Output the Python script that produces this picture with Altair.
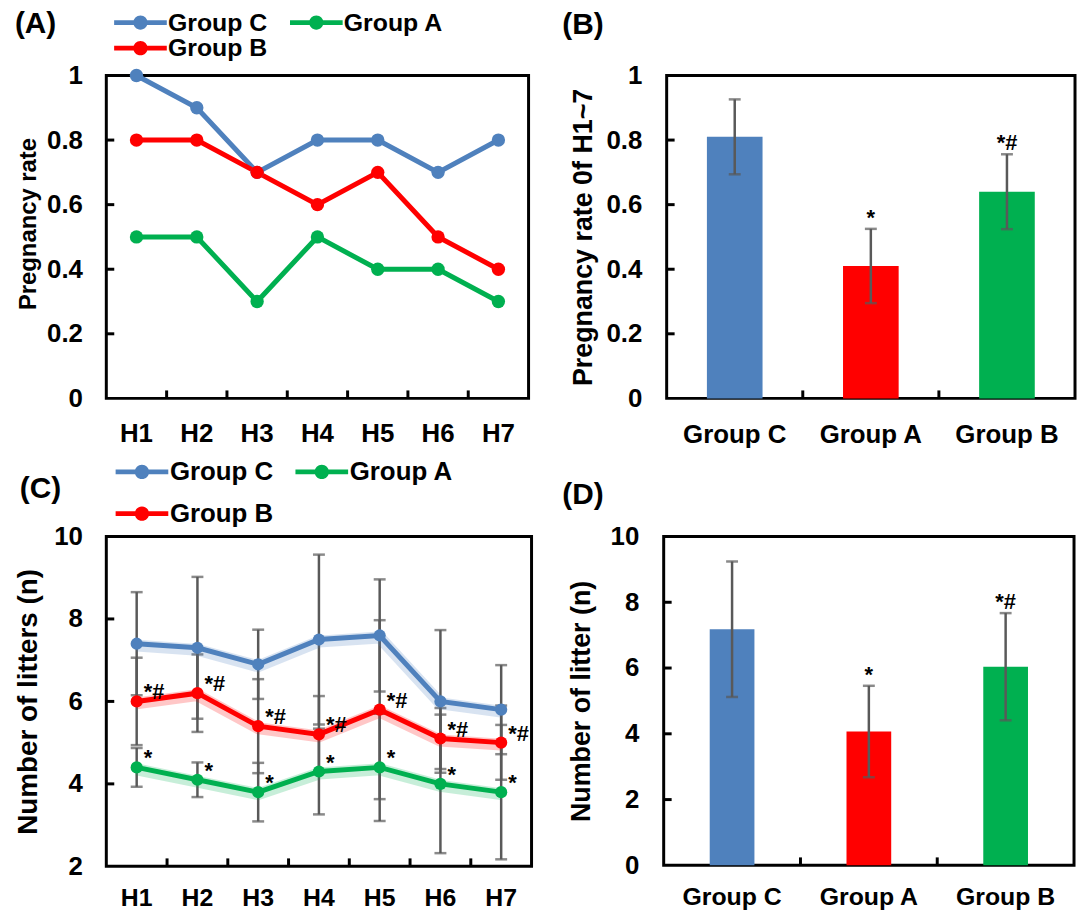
import altair as alt
import pandas as pd

# ---------------- data ----------------
hours = ["H1", "H2", "H3", "H4", "H5", "H6", "H7"]
groups = ["Group C", "Group A", "Group B"]
line_colors = ["#4F81BD", "#00B050", "#FF0000"]
bar_colors = ["#4F81BD", "#FF0000", "#00B050"]

rate_c = [1.0, 0.9, 0.7, 0.8, 0.8, 0.7, 0.8]
rate_a = [0.5, 0.5, 0.3, 0.5, 0.4, 0.4, 0.3]
rate_b = [0.8, 0.8, 0.7, 0.6, 0.7, 0.5, 0.4]

litter_c = [7.4, 7.3, 6.9, 7.5, 7.6, 6.0, 5.8]
litter_c_sd = [1.25, 1.72, 0.84, 2.06, 1.36, 1.73, 1.08]
litter_a = [4.4, 4.1, 3.8, 4.3, 4.4, 4.0, 3.8]
litter_a_sd = [0.47, 0.42, 0.71, 1.04, 1.30, 1.68, 1.63]
litter_b = [6.0, 6.2, 5.4, 5.2, 5.8, 5.1, 5.0]
litter_b_sd = [1.06, 0.94, 1.14, 0.93, 2.17, 0.74, 0.90]
litter_marks = {"Group C": "", "Group A": "*", "Group B": "*#"}

bar_rate = [0.81, 0.41, 0.64]
bar_rate_err = [0.116, 0.115, 0.116]
bar_litter = [7.18, 4.07, 6.04]
bar_litter_err = [2.06, 1.39, 1.63]
bar_marks = ["", "*", "*#"]

rate_ticks = [0, 0.2, 0.4, 0.6, 0.8, 1.0]
litter_ticks = [2, 4, 6, 8, 10]
litter_bar_ticks = [0, 2, 4, 6, 8, 10]

# ---------------- tables ----------------
rate_df = pd.DataFrame(
    [{"hour": h, "group": g, "v": v}
     for g, vals in zip(groups, [rate_c, rate_a, rate_b])
     for h, v in zip(hours, vals)]
)
lit_rows = []
for g, m, s in zip(groups, [litter_c, litter_a, litter_b],
                   [litter_c_sd, litter_a_sd, litter_b_sd]):
    for h, mv, sv in zip(hours, m, s):
        lit_rows.append({"hour": h, "group": g, "v": mv,
                         "lo": mv - sv, "hi": mv + sv,
                         "mark": litter_marks[g]})
lit_df = pd.DataFrame(lit_rows)


def bar_table(vals, errs):
    return pd.DataFrame({
        "group": groups, "v": vals,
        "lo": [v - e for v, e in zip(vals, errs)],
        "hi": [v + e for v, e in zip(vals, errs)],
        "mark": bar_marks})


bar_rate_df = bar_table(bar_rate, bar_rate_err)
bar_lit_df = bar_table(bar_litter, bar_litter_err)

FONT = "Liberation Sans"
ERR = "#595959"
# legend glyph: thick line with a dot, left-anchored (unit = sqrt(size)/2)
LEG_SYMBOL = ("M-1,-0.36H7V0.36H-1Z "
              "M4.087,0A1.087,1.087 0 1,1 1.913,0"
              "A1.087,1.087 0 1,1 4.087,0Z")
LEG_SIZE = 175.6
LEG_OFFSET = 35


def panel_title(txt, dx, dy):
    return alt.TitleParams(txt, anchor="start", frame="group", dx=dx, dy=dy,
                           font=FONT, fontSize=30, fontWeight="bold",
                           color="black")


def yaxis(title, values, tsize, extent, tpad, lpad, **extra):
    return alt.Axis(title=title, values=values, format="~r", ticks=False,
                    domain=False, grid=False, labelFont=FONT, labelFontSize=26,
                    labelFontWeight="bold", labelColor="black",
                    labelPadding=lpad, minExtent=extent, maxExtent=extent,
                    titleFont=FONT, titleFontSize=tsize,
                    titleFontWeight="bold", titleColor="black",
                    titlePadding=tpad, **extra)


def xaxis(lpad, fsize=26):
    return alt.Axis(title=None, ticks=False, domain=False, grid=False,
                    labelAngle=0, labelAlign="center", labelBaseline="top",
                    labelFont=FONT, labelFontSize=fsize,
                    labelFontWeight="bold", labelColor="black",
                    labelPadding=lpad)


def legend(lx, ly, colpad, rowpad, fsize):
    return alt.Legend(title=None, orient="none", legendX=lx, legendY=ly,
                      columns=2, direction="horizontal",
                      symbolType=LEG_SYMBOL, symbolSize=LEG_SIZE,
                      symbolStrokeWidth=0, symbolOpacity=1,
                      labelFont=FONT, labelFontSize=fsize,
                      labelFontWeight="bold", labelColor="black",
                      labelOffset=LEG_OFFSET, columnPadding=colpad,
                      rowPadding=rowpad)


def inner_ticks(tick_values, y_enc_args, cats, xfield, x_enc_args, h):
    ydf = pd.DataFrame({"v": tick_values[1:-1]})
    yt = alt.Chart(ydf).mark_rule(color="black", strokeWidth=3).encode(
        y=alt.Y("v:Q", **y_enc_args),
        x=alt.value(0), x2=alt.value(8))
    xdf = pd.DataFrame({xfield: cats[1:]})
    xt = alt.Chart(xdf).mark_rule(color="black", strokeWidth=3).encode(
        x=alt.X(f"{xfield}:N", bandPosition=0, **x_enc_args),
        y=alt.value(h), y2=alt.value(h - 8))
    return yt, xt


xs_h = alt.Scale(type="band", domain=hours, paddingInner=0, paddingOuter=0)
xs_g = alt.Scale(type="band", domain=groups, paddingInner=0, paddingOuter=0)
colLine = alt.Scale(domain=groups, range=line_colors)
colBar = alt.Scale(domain=groups, range=bar_colors)

# ---------------- panel A ----------------
A_W, A_H = 425, 325
ax_x = dict(scale=xs_h, axis=xaxis(22))
ax_y = dict(scale=alt.Scale(domain=[0, 1], nice=False),
            axis=yaxis("Pregnancy rate", rate_ticks, 24, 60, 6, 24,
                       titleY=149))
legA = legend(2, -66, 17, 0, 25)
a_base = alt.Chart(rate_df).encode(
    x=alt.X("hour:N", **ax_x), y=alt.Y("v:Q", **ax_y))
a_line = a_base.mark_line(strokeWidth=5).encode(
    color=alt.Color("group:N", scale=colLine, legend=legA), detail="group:N")
a_pts = a_base.mark_circle(size=180, opacity=1).encode(
    color=alt.Color("group:N", scale=colLine, legend=legA))
a_yt, a_xt = inner_ticks(rate_ticks, ax_y, hours, "hour", ax_x, A_H)
panelA = alt.layer(a_yt, a_xt, a_line, a_pts).properties(
    width=A_W, height=A_H, title=panel_title("(A)", -92, 33))

# ---------------- panel B ----------------
B_W, B_H = 411, 325
bx_x = dict(scale=xs_g, axis=xaxis(23))
bx_y = dict(scale=alt.Scale(domain=[0, 1], nice=False),
            axis=yaxis("Pregnancy rate 0f H1~7", rate_ticks, 27, 61, 9, 25))
b_base = alt.Chart(bar_rate_df).encode(x=alt.X("group:N", **bx_x))
b_bar = b_base.mark_bar(size=56).encode(
    y=alt.Y("v:Q", **bx_y),
    color=alt.Color("group:N", scale=colBar, legend=None))
b_err = b_base.mark_rule(color=ERR, strokeWidth=2.5).encode(
    y=alt.Y("lo:Q", **bx_y), y2="hi:Q")
b_cap1 = b_base.mark_tick(color=ERR, thickness=2.5, size=12,
                          orient="horizontal").encode(y=alt.Y("hi:Q", **bx_y))
b_cap2 = b_base.mark_tick(color=ERR, thickness=2.5, size=12,
                          orient="horizontal").encode(y=alt.Y("lo:Q", **bx_y))
b_txt = b_base.mark_text(dy=-4, baseline="alphabetic", font=FONT,
                         fontSize=22, fontWeight="bold", color="black"
                         ).encode(y=alt.Y("hi:Q", **bx_y), text="mark:N")
b_yt, b_xt = inner_ticks(rate_ticks, bx_y, groups, "group", bx_x, B_H)
panelB = alt.layer(b_yt, b_xt, b_bar, b_err, b_cap1, b_cap2, b_txt).properties(
    width=B_W, height=B_H, title=panel_title("(B)", -105, -19))

# ---------------- panel C ----------------
C_W, C_H = 428, 332
cx_x = dict(scale=xs_h, axis=xaxis(19, 25))
cx_y = dict(scale=alt.Scale(domain=[2, 10], nice=False),
            axis=yaxis("Number of litters (n)", litter_ticks, 28, 53, 11, 24))
legC = legend(3, -78, 16, 16, 26)
c_base = alt.Chart(lit_df).encode(
    x=alt.X("hour:N", **cx_x), y=alt.Y("v:Q", **cx_y))
c_err = c_base.mark_rule(color=ERR, strokeWidth=2.5).encode(
    y=alt.Y("lo:Q", **cx_y), y2="hi:Q")
c_cap1 = c_base.mark_tick(color=ERR, thickness=2.5, size=12,
                          orient="horizontal").encode(y=alt.Y("hi:Q", **cx_y))
c_cap2 = c_base.mark_tick(color=ERR, thickness=2.5, size=12,
                          orient="horizontal").encode(y=alt.Y("lo:Q", **cx_y))
c_glow = c_base.mark_line(strokeWidth=12, opacity=0.22, yOffset=2).encode(
    color=alt.Color("group:N", scale=colLine, legend=legC), detail="group:N")
c_line = c_base.mark_line(strokeWidth=5).encode(
    color=alt.Color("group:N", scale=colLine, legend=legC), detail="group:N")
c_pts = c_base.mark_circle(size=150, opacity=1).encode(
    color=alt.Color("group:N", scale=colLine, legend=legC))
c_txt = c_base.mark_text(align="left", dx=7, dy=-2, baseline="alphabetic",
                         font=FONT, fontSize=22, fontWeight="bold",
                         color="black").encode(text="mark:N")
c_yt, c_xt = inner_ticks(litter_ticks, cx_y, hours, "hour", cx_x, C_H)
panelC = alt.layer(c_yt, c_xt, c_err, c_cap1, c_cap2, c_glow, c_line, c_pts,
                   c_txt).properties(width=C_W, height=C_H,
                                     title=panel_title("(C)", -87, 49))

# ---------------- panel D ----------------
D_W, D_H = 413, 331
dx_x = dict(scale=xs_g, axis=xaxis(19, 25))
dx_y = dict(scale=alt.Scale(domain=[0, 10], nice=False),
            axis=yaxis("Number of litter (n)", litter_bar_ticks, 27, 54, 15, 25))
d_base = alt.Chart(bar_lit_df).encode(x=alt.X("group:N", **dx_x))
d_bar = d_base.mark_bar(size=45).encode(
    y=alt.Y("v:Q", **dx_y),
    color=alt.Color("group:N", scale=colBar, legend=None))
d_err = d_base.mark_rule(color=ERR, strokeWidth=2.5).encode(
    y=alt.Y("lo:Q", **dx_y), y2="hi:Q")
d_cap1 = d_base.mark_tick(color=ERR, thickness=2.5, size=12,
                          orient="horizontal").encode(y=alt.Y("hi:Q", **dx_y))
d_cap2 = d_base.mark_tick(color=ERR, thickness=2.5, size=12,
                          orient="horizontal").encode(y=alt.Y("lo:Q", **dx_y))
d_txt = d_base.mark_text(dy=-4, baseline="alphabetic", font=FONT,
                         fontSize=22, fontWeight="bold", color="black"
                         ).encode(y=alt.Y("hi:Q", **dx_y), text="mark:N")
d_yt, d_xt = inner_ticks(litter_bar_ticks, dx_y, groups, "group", dx_x, D_H)
panelD = alt.layer(d_yt, d_xt, d_bar, d_err, d_cap1, d_cap2, d_txt).properties(
    width=D_W, height=D_H, title=panel_title("(D)", -102, -10))

top = alt.hconcat(panelA, panelB, spacing=30).resolve_scale(
    color="independent", x="independent", y="independent")
bottom = alt.hconcat(panelC, panelD, spacing=27).resolve_scale(
    color="independent", x="independent", y="independent")
chart = alt.vconcat(top, bottom, spacing=8).resolve_scale(
    color="independent", x="independent", y="independent"
).resolve_legend(color="independent").properties(
    padding={"left": 13, "top": 4, "right": 0, "bottom": 0}
).configure_view(stroke="black", strokeWidth=3
).configure_title(font=FONT)

chart.save("out.html", embed_options={"renderer": "svg", "actions": False})
